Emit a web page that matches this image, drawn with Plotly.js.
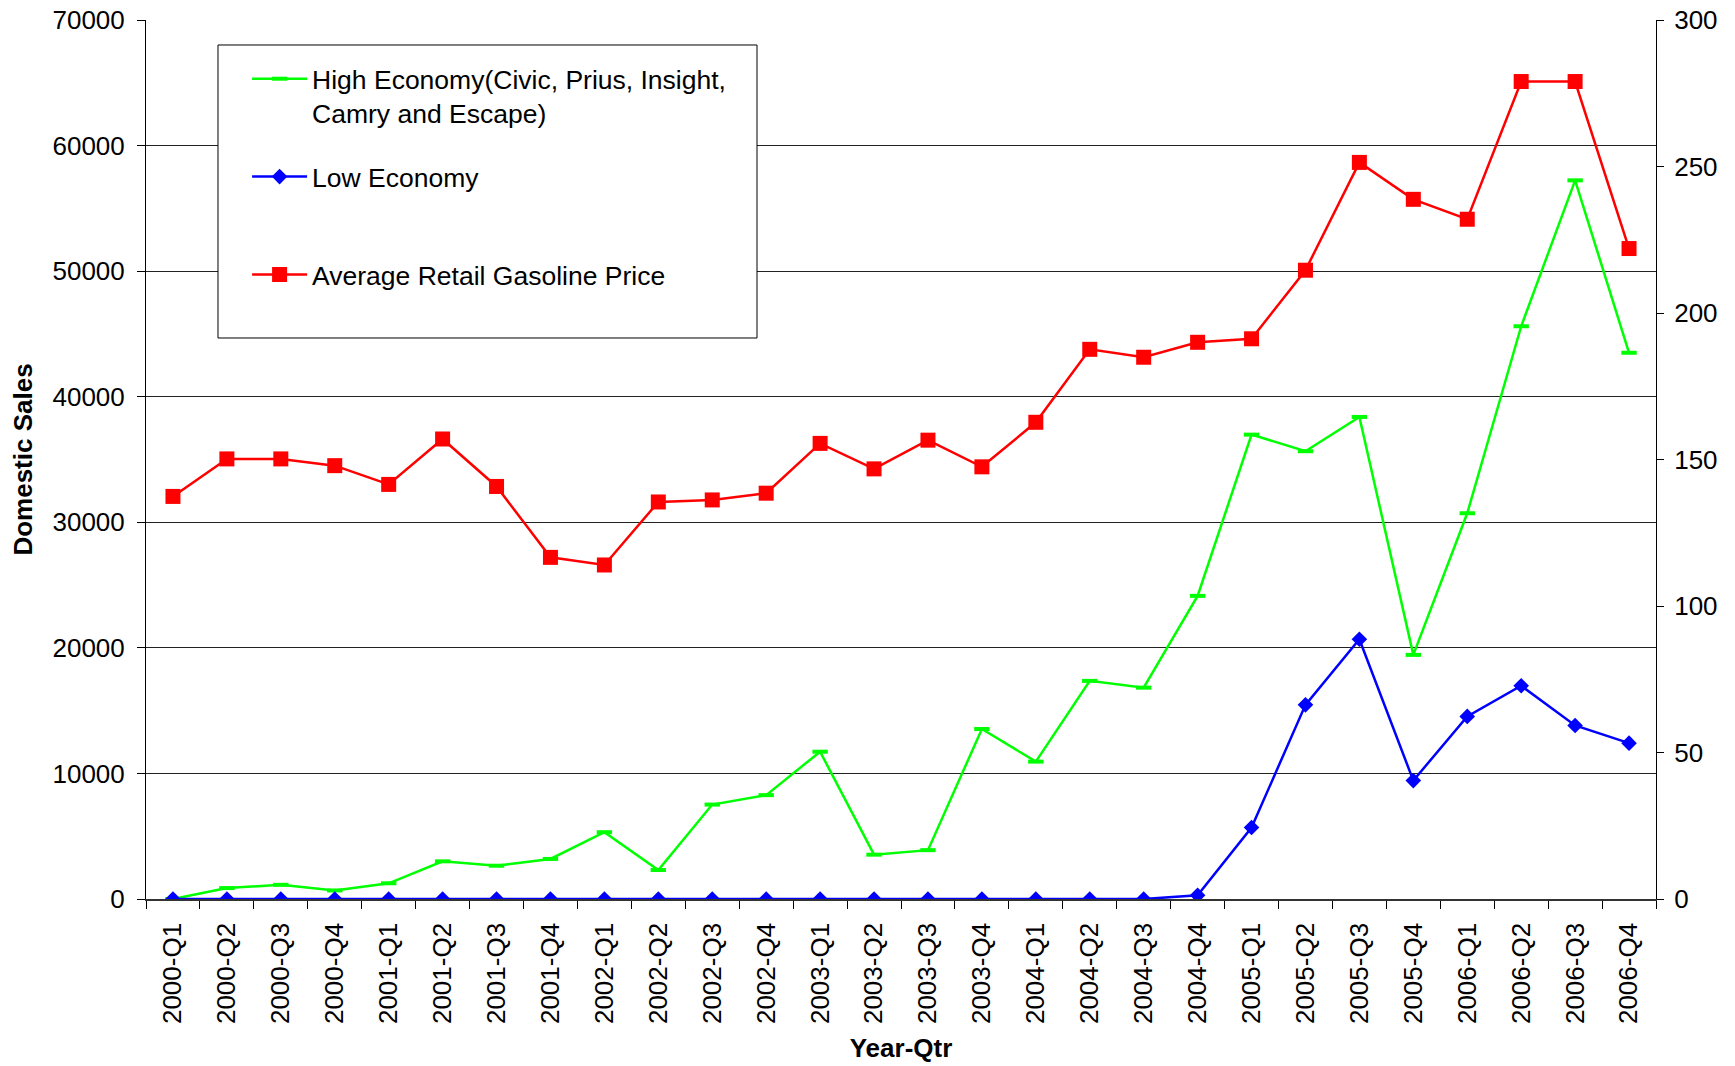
<!DOCTYPE html>
<html>
<head>
<meta charset="utf-8">
<script src="https://cdn.plot.ly/plotly-3.0.1.min.js"></script>
<style>html,body{margin:0;padding:0;background:#fff;}#chart{width:1735px;height:1066px;}</style>
</head>
<body>
<div id="chart"></div>
<script>
var quarters = ["2000-Q1","2000-Q2","2000-Q3","2000-Q4","2001-Q1","2001-Q2","2001-Q3","2001-Q4",
  "2002-Q1","2002-Q2","2002-Q3","2002-Q4","2003-Q1","2003-Q2","2003-Q3","2003-Q4",
  "2004-Q1","2004-Q2","2004-Q3","2004-Q4","2005-Q1","2005-Q2","2005-Q3","2005-Q4",
  "2006-Q1","2006-Q2","2006-Q3","2006-Q4"];
var highEconomy = [0, 870, 1130, 680, 1250, 3000, 2650, 3190,
  5320, 2310, 7520, 8270, 11730, 3530, 3890, 13540,
  10940, 17370, 16830, 24140, 36980, 35660, 38390, 19440,
  30720, 45610, 57230, 43500];
var lowEconomy = [0, 0, 0, 0, 0, 0, 0, 0,
  0, 0, 0, 0, 0, 0, 0, 0,
  0, 0, 0, 290, 5690, 15460, 20690, 9430,
  14540, 16980, 13820, 12410];
var gasPrice = [137.4, 150.2, 150.2, 147.9, 141.5, 157.0, 140.8, 116.6,
  114.0, 135.5, 136.2, 138.5, 155.5, 146.8, 156.6, 147.5,
  162.7, 187.6, 184.9, 190.0, 191.2, 214.6, 251.4, 238.8,
  232.0, 279.0, 279.0, 222.0];
var leftTicks = [0, 10000, 20000, 30000, 40000, 50000, 60000, 70000];
var rightTicks = [0, 50, 100, 150, 200, 250, 300];

var FONT = "Liberation Sans, Arial, Helvetica, sans-serif";

var traces = [
  {
    x: quarters, y: highEconomy, type: "scatter", mode: "lines+markers",
    name: "High Economy(Civic, Prius, Insight,<br>Camry and Escape)",
    legendgroup: "g1",
    line: {color: "#00ff00", width: 2.5},
    marker: {symbol: "line-ew", size: 11, color: "#00ff00", line: {width: 4, color: "#00ff00"}},
    yaxis: "y"
  },
  {
    x: quarters, y: lowEconomy, type: "scatter", mode: "lines+markers",
    name: "Low Economy<br>\u00a0",
    legendgroup: "g2",
    line: {color: "#0000ff", width: 2.5},
    marker: {symbol: "diamond", size: 12, color: "#0000ff"},
    yaxis: "y"
  },
  {
    x: quarters, y: gasPrice, type: "scatter", mode: "lines+markers",
    name: "Average Retail Gasoline Price",
    legendgroup: "g3",
    line: {color: "#ff0000", width: 2.5},
    marker: {symbol: "square", size: 15, color: "#ff0000"},
    yaxis: "y2"
  }
];

var layout = {
  width: 1735, height: 1066,
  margin: {l: 146, r: 79, t: 20, b: 167},
  paper_bgcolor: "#ffffff", plot_bgcolor: "#ffffff",
  font: {family: FONT, size: 26, color: "#000000"},
  showlegend: true,
  legend: {
    x: 0.0537, y: 0.9602, xanchor: "left", yanchor: "top",
    bgcolor: "rgba(0,0,0,0)", borderwidth: 0,
    font: {family: FONT, size: 26.5, color: "#000000"},
    tracegroupgap: 26, valign: "top", itemwidth: 55, indentation: 20
  },
  shapes: [
    {type: "rect", xref: "paper", yref: "paper", layer: "above",
     x0: 0.04768, x1: 0.40464, y0: 0.63823, y1: 0.97156,
     fillcolor: "#ffffff", line: {color: "#000000", width: 1}}
  ],
  xaxis: {
    type: "category", tickmode: "array", tickvals: quarters, ticktext: quarters,
    tickson: "boundaries", ticks: "outside", ticklen: 8, tickcolor: "#000",
    tickangle: -90, ticklabelstandoff: 12,
    showline: true, linecolor: "#333", linewidth: 1.5,
    showgrid: false, zeroline: false,
    tickfont: {family: FONT, size: 26, color: "#000"},
    title: {text: "<b>Year-Qtr</b>", font: {family: FONT, size: 26, color: "#000"}, standoff: 15},
    range: [-0.5, 27.5], automargin: false
  },
  yaxis: {
    range: [0, 70000], tickmode: "array", tickvals: leftTicks, ticktext: leftTicks.map(String),
    ticks: "outside", ticklen: 8, tickcolor: "#000", ticklabelstandoff: 7,
    showline: true, linecolor: "#000", linewidth: 1,
    showgrid: true, gridcolor: "#222", gridwidth: 1, zeroline: false,
    tickfont: {family: FONT, size: 26, color: "#000"},
    title: {text: "<b>Domestic Sales</b>", font: {family: FONT, size: 26, color: "#000"}, standoff: 12},
    automargin: false
  },
  yaxis2: {
    overlaying: "y", side: "right", anchor: "x",
    range: [0, 300], tickmode: "array", tickvals: rightTicks, ticktext: rightTicks.map(String),
    ticks: "outside", ticklen: 7, tickcolor: "#000", ticklabelstandoff: 5,
    showline: true, linecolor: "#000", linewidth: 1,
    showgrid: false, zeroline: false,
    tickfont: {family: FONT, size: 26, color: "#000"},
    automargin: false
  },
  yaxis3: {
    overlaying: "y", side: "right", anchor: "x",
    range: [0, 300], tickmode: "array", tickvals: rightTicks,
    ticks: "inside", ticklen: 8, tickcolor: "#000",
    showticklabels: false, showline: false, showgrid: false, zeroline: false
  }
};

Plotly.newPlot("chart", traces, layout, {displayModeBar: false, staticPlot: true});
</script>
</body>
</html>
